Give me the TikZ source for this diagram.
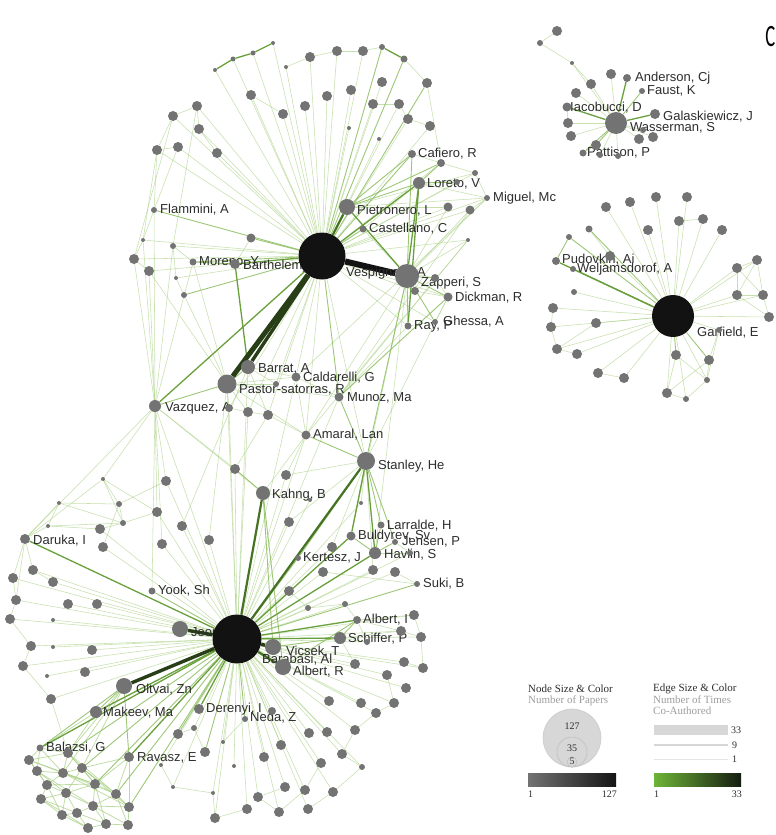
\documentclass[tikz,border=0pt]{standalone}
\usepackage{fontspec}
\newfontfamily\labfont{Liberation Sans}
\newfontfamily\legfont{Liberation Serif}
\newfontfamily\ttlfont{Carlito}
\pgfdeclarelayer{paper}
\pgfdeclarelayer{edges}
\pgfdeclarelayer{labels}
\pgfsetlayers{paper,edges,labels,main}
\definecolor{nodegray}{RGB}{115,115,115}
\definecolor{hubblack}{RGB}{18,18,18}
\definecolor{labgray}{RGB}{45,45,45}
\definecolor{elight}{RGB}{168,208,130}
\definecolor{emedium}{RGB}{140,190,95}
\definecolor{estrongc}{RGB}{105,160,60}
\definecolor{edeepc}{RGB}{70,115,35}
\definecolor{edarkc}{RGB}{40,62,22}
\definecolor{leggray}{RGB}{215,215,215}
\begin{document}
\begin{tikzpicture}[x=1pt,y=-1pt,
  pnode/.style={circle,fill=nodegray,draw=none,inner sep=0pt},
  hubnode/.style={circle,fill=hubblack,draw=none,inner sep=0pt},
  lab/.style={anchor=west,inner sep=0pt,text=labgray,font={\labfont\fontsize{13}{15}\selectfont}},
  elt/.style={draw=elight,line width=0.55pt,opacity=0.65},
  emesh/.style={draw=elight,line width=0.75pt,opacity=0.75},
  emd/.style={draw=emedium,line width=0.9pt,opacity=0.85},
  est/.style={draw=estrongc,line width=1.3pt},
  edp/.style={draw=edeepc,line width=2.2pt},
  edk/.style={draw=edarkc,line width=3.4pt},
  eblk/.style={draw=hubblack,line width=6pt},
  legtitle/.style={anchor=west,inner sep=0pt,text=labgray,font={\legfont\fontsize{11}{12}\selectfont}},
  legsub/.style={anchor=west,inner sep=0pt,text=black!38,font={\legfont\fontsize{11}{11}\selectfont}},
  legnum/.style={inner sep=0pt,text=labgray,font={\legfont\fontsize{10}{11}\selectfont}}]
\useasboundingbox (0,0) rectangle (776,835);
\begin{pgfonlayer}{paper}
\fill[white] (0,0) rectangle (776,835);
\end{pgfonlayer}

% ---------- hubs ----------
\node[hubnode,minimum size=47pt] (ves) at (322,256) {};
\node[hubnode,minimum size=49pt] (bar) at (237,639) {};
\node[hubnode,minimum size=42pt] (gar) at (673,316) {};
\node[pnode,minimum size=22pt] (was) at (616,123) {};

% ---------- upper component ----------
\foreach \n/\x/\y/\r in {zap/407/276/12, pie/347/207/8, lor/419/183/6, caf/412/154/4,
  a1/441/163/4, a2/475/173/3, a3/457/182/3, mig/487/198/3, a4/448/207/4.5, a5/470/210/4.5,
  cas/363/229/3.5, a6/468/240/2, a7/435/278/4, a8/415/291/4, dic/448/297/4.5, ghe/435/322/3,
  ray/408/326/3.5, bth/235/264/5, mor/193/262/3.5, a9/251/238/4.5, fla/154/210/3,
  a10/143/240/2, a11/173/246/3, a12/134/259/5, a13/149/271/5, a14/176/278/2, a15/184/295/3,
  brr/248/367/7, pas/227/384/9.5, cal/296/377/4.5, a16/276/384/3, mun/339/397/4.5,
  vaz/155/406/6, a17/229/408/4, a18/248/412/5, a19/268/415/5,
  t1/215/70/2, t2/233/59/2.5, t3/253/53/2.5, t4/273/43/2, t5/286/67/2, t6/310/57/5,
  t7/337/51/5, t8/363/51/5, t9/382/47/3, t10/404/59/3.5, t11/427/83/5, t12/382/82/5,
  t13/351/90/5, t14/327/96/5, t15/305/106/5, t16/283/114/5, t17/251/95/5, t18/373/104/5,
  t19/399/104/5, t20/408/119/5, t21/430/126/5, t22/349/128/2, t23/379/139/2,
  t24/173/116/5, t25/197/106/5, t26/199/129/5, t27/157/150/5, t28/178/147/5, t29/217/153/5}
  \node[pnode,minimum size={2*\r pt}] (\n) at (\x,\y) {};

% ---------- lower component ----------
\foreach \n/\x/\y/\r in {sta/366/461/9, ama/306/435/4.5, kah/263/493/7, lar/381/525/3.5,
  bul/351/536/4.5, jen/395/542/3, hav/375/553/6, ker/298/558/3, suk/417/584/3,
  yoo/152/591/3.5, alb/357/620/4, jeo/180/629/8, sch/340/638/6, vic/273/647/8,
  alr/283/667/8, olt/124/686/8, mak/96/712/6, der/199/709/5, ned/245/719/3,
  bal/40/748/3.5, rav/129/757/5, dar/25/539/5,
  b1/235/469/5, b2/286/475/5, b3/103/479/2, b4/166/481/5, b5/310/500/2, b6/361/503/2,
  b7/59/503/2, b8/119/504/3, b9/157/512/5, b10/289/522/5, b11/182/526/5, b12/48/526/2,
  b13/123/523/3, b14/100/529/5, b15/209/540/5, b16/162/544/5, b17/103/547/5, b18/332/547/5,
  b19/410/553/3, b20/323/572/5, b21/373/570/5, b22/395/572/5, b23/33/570/5, b24/13/578/5,
  b25/53/582/5, b26/289/591/5, b27/16/600/5, b28/68/604/5, b29/97/604/5, b30/345/604/3,
  b31/308/608/3, b32/10/619/5, b33/53/620/2, b34/414/615/5, b35/401/631/5, b36/367/642/3,
  b37/421/637/5, b38/31/646/5, b39/53/647/2, b40/92/650/5, b41/23/666/5, b42/355/664/5,
  b43/404/662/5, b44/423/668/5, b45/85/672/5, b46/47/676/2, b47/387/675/5, b48/406/688/5,
  b49/51/699/5, b50/329/701/5, b51/361/703/5, b52/394/703/5, b53/272/711/4, b54/376/713/5,
  b55/194/728/3, b56/178/734/5, b57/309/733/5, b58/327/732/5, b59/355/730/5, b60/223/742/2,
  b61/281/745/5, b62/68/753/5, b63/205/752/5, b64/264/757/5, b65/342/754/5, b66/321/763/5,
  b67/29/760/5, b68/161/765/2, b69/234/766/2, b70/362/767/3, b71/37/771/5, b72/63/773/5,
  b73/82/768/5, b74/173/787/2, b75/47/785/5, b76/95/784/5, b77/285/787/5, b78/305/790/5,
  b79/333/792/5, b80/116/794/5, b81/66/793/5, b82/213/793/2, b83/258/797/5, b84/41/799/5,
  b85/93/806/5, b86/129/807/5, b87/247/809/5, b88/279/812/5, b89/308/809/5, b90/62/815/5,
  b91/77/813/5, b92/215/818/5, b93/88/828/5, b94/106/824/5, b95/128/825/5}
  \node[pnode,minimum size={2*\r pt}] (\n) at (\x,\y) {};

% ---------- Wasserman component ----------
\foreach \n/\x/\y/\r in {ande/627/78/4, fau/642/91/3, iac/567/107/4.5, gal/655/114/5,
  pat/583/153/3.5, w1/557/31/5, w2/540/43/3, w3/572/63/2, w4/611/74/5, w5/591/84/5,
  w6/576/93/5, w7/568/123/5, w8/571/136/5, w9/596/145/5, w10/639/139/5, w11/653/137/5,
  w12/600/155/3, w13/618/156/3, w14/643/130/3}
  \node[pnode,minimum size={2*\r pt}] (\n) at (\x,\y) {};

% ---------- Garfield component ----------
\foreach \n/\x/\y/\r in {pud/556/261/4, wel/573/269/3, g1/606/207/5, g2/630/202/5,
  g3/656/197/5, g4/687/197/5, g5/679/221/5, g6/703/219/5, g7/722/230/5, g8/648/230/5,
  g9/589/229/3.5, g10/569/237/3, g11/610/256/5, g12/574/292/3, g13/553/308/5,
  g14/596/323/5, g15/551/327/5, g16/557/349/5, g17/577/354/5, g18/598/373/5,
  g19/624/378/5, g20/737/268/5, g21/757/260/5, g22/737/295/5, g23/763/295/5,
  g24/769/317/5, g25/719/330/3, g26/709/360/5, g27/676/355/5, g28/707/380/3,
  g29/667/393/5, g30/686/399/3}
  \node[pnode,minimum size={2*\r pt}] (\n) at (\x,\y) {};

% ---------- edges ----------
\begin{pgfonlayer}{edges}
% light co-authorships
\foreach \a/\b in {ves/t1, ves/t2, ves/t3, ves/t4, ves/t5, ves/t6, ves/t7, ves/t8, ves/t12,
  ves/t13, ves/t14, ves/t15, ves/t16, ves/t17, ves/t18, ves/t19, ves/t20, ves/t21, ves/t22,
  ves/t23, ves/t24, ves/t25, ves/t26, ves/t27, ves/t28, ves/t29, ves/a1, ves/a2, ves/a3,
  ves/a4, ves/a5, ves/a6, ves/a7, ves/a8, ves/a10, ves/a11, ves/a12, ves/a13, ves/a14,
  ves/dic, ves/ghe, ves/ray, ves/cal, ves/a16, ves/a17, ves/a18, ves/a19, ves/mig,
  ves/ama, ves/sta,
  t5/t6, t6/t7, t7/t8, t8/t9, t10/t11, t24/t25, t24/t27, t25/t26, t27/t28, t26/t29,
  t17/t16, t21/t20, t20/t19, t19/t18, t11/a1, t27/a10, t27/fla, t28/fla, t24/a12, t25/a11,
  fla/a10, a10/a12, a12/a13, a11/a14, a13/vaz, a12/vaz, a10/vaz, fla/vaz, a11/vaz,
  mor/a11, mor/pas, mor/vaz, a15/pas, a14/a15, a13/pas, a9/bth,
  caf/a1, a1/a2, a2/mig, a3/lor, mig/a5, a4/zap, a5/zap, a6/zap, a6/mun, a7/a8, a8/dic,
  dic/ghe, ghe/ray, zap/mig, pie/a2, pie/a4, pie/mig, cas/zap, cas/lor, lor/mig,
  ray/mun, a7/dic, mig/cal, a5/mun, a6/ama, zap/hav, zap/bul,
  vaz/dar, vaz/yoo, vaz/b4, vaz/b9, vaz/b1, vaz/kah, vaz/bar, vaz/b16, vaz/b3,
  a17/a18, a18/a19, a19/ama, a17/pas, a18/pas, a19/brr, cal/pas, cal/brr, cal/mun,
  a16/pas, a16/brr, mun/pas, a17/bar, a18/bar, a19/b1, cal/bar, brr/bar, pas/bar,
  mun/bar, ama/b2, ama/kah, ama/bar, ama/zap, ama/pas, ama/cal, brr/b11, pas/b15,
  sta/b6, sta/b21, sta/b18, sta/b10, sta/dic, sta/b2,
  bar/b1, bar/b2, bar/b4, bar/b9, bar/b10, bar/b11, bar/b15, bar/b16, bar/b17, bar/b18,
  bar/b20, bar/b21, bar/b22, bar/b23, bar/b24, bar/b25, bar/b26, bar/b28, bar/b29,
  bar/b30, bar/b31, bar/b32, bar/b34, bar/b35, bar/b36, bar/b37, bar/b38, bar/b40,
  bar/b41, bar/b42, bar/b43, bar/b44, bar/b45, bar/b47, bar/b48, bar/b49, bar/b50,
  bar/b51, bar/b52, bar/b53, bar/b54, bar/b55, bar/b57, bar/b58, bar/b59, bar/b60,
  bar/b61, bar/b64, bar/b65, bar/b66, bar/b69, bar/b70, bar/b77, bar/b78, bar/b79,
  bar/b82, bar/b83, bar/b87, bar/b88, bar/b89, bar/b92, bar/b5, bar/b6, bar/b19,
  bar/b27, bar/b14, bar/b68, bar/b74, bar/b33, bar/b39, bar/b46,
  dar/b3, dar/b7, dar/b12, dar/b23, dar/b24, dar/b27, b3/b8, b7/b8, b8/b13, b12/b13,
  b7/b12, b13/b14, b3/b9, b8/b17, b12/b14, b7/b13, b23/b25, b24/b27, b27/b32, b32/b38,
  b38/b41, b41/b49, b49/b62, b3/b13, b8/b4, b13/b9,
  b70/b79, b79/b89, b66/b78, b78/b88, b59/b65, b65/b70, b54/b59, b52/b54, b47/b52,
  b87/b92, b83/b88, b77/b83, b92/b82, b82/b74, b74/b68, ned/b60, b56/b55, b63/b55,
  alb/b34, alb/b35, sch/b36, alb/b36, b34/b37, b35/b37, b37/b44, b43/b44, b42/sch,
  sch/b35, alb/b30, b30/b31, b31/b26, suk/b22, suk/b20, hav/b19, b19/jen, kah/b5,
  was/w3, was/w4, was/w5, was/w6, was/w7, was/w8, was/w10, was/w11, was/w12, was/w13,
  was/w14, w1/w2, w2/w3, w3/w5, iac/w7, w9/pat,
  gar/g1, gar/g2, gar/g3, gar/g4, gar/g5, gar/g6, gar/g7, gar/g8, gar/g11, gar/g12,
  gar/g13, gar/g14, gar/g15, gar/g16, gar/g17, gar/g18, gar/g19, gar/g20, gar/g21,
  gar/g22, gar/g23, gar/g24, gar/g25, gar/g28, gar/g29, gar/g30,
  g20/g21, g20/g22, g21/g23, g22/g23, g23/g24, g20/g23, g21/g22, g22/g24,
  g25/g26, g26/g28, g27/g28, g27/g29, g28/g30, g29/g30, g26/g29, g25/g28,
  g13/g15, g15/g16, g16/g17, g18/g19, g14/g16, g5/g6, g9/g11}
  \draw[elt] (\a) -- (\b);
% dense mesh of the lower-left group
\foreach \a/\b in {bal/b62, bal/b67, bal/b71, bal/b72, b62/b67, b62/b72, b62/b73,
  b67/b71, b67/b72, b71/b75, b71/b72, b72/b73, b72/b75, b72/b76, b73/b76, b73/b81,
  b75/b81, b75/b84, b76/b80, b76/b81, b76/b85, b80/b85, b80/b86, b81/b84, b81/b85,
  b81/b90, b84/b90, b85/b86, b85/b91, b85/b94, b86/b95, b90/b91, b91/b93, b93/b94,
  b94/b95, b73/b80, b62/b76, b67/b75, b71/b81, b72/b80, b84/b91, b90/b93, b75/b76,
  b80/b95, b91/b94, rav/b73, rav/b76, rav/b80, rav/b86, olt/b62, olt/b73, olt/b72,
  mak/b62, mak/bal, b95/b85, b62/b80, b67/b76, b71/b85, b72/b86, b73/b86, b75/b90,
  b84/b93, b76/b94, b81/b91}
  \draw[emesh] (\a) -- (\b);
% medium co-authorships
\foreach \a/\b in {ves/fla, ves/mor, ves/a9, ves/cas, ves/caf, ves/a15, ves/mun, ves/t9,
  ves/t10, ves/t11, bth/mor, pas/brr, zap/caf, zap/dic, zap/a7, zap/a8, zap/ray, zap/ghe,
  pie/lor, pie/caf, pie/a1, lor/a1, lor/a3, dic/mun, sta/ama, sta/mun, sta/zap, sta/lar,
  sta/jen, sta/ker, kah/b1, kah/alr, kah/vic, hav/bul, hav/lar, hav/jen, sch/alb,
  sch/vic, alb/alr, bar/suk, bar/ker, bar/yoo, bar/ned, olt/bal, olt/rav, olt/mak,
  bar/b73, bar/b76, bar/b80, bar/b56, bar/b63, bar/b62, bar/b86, vaz/pas,
  was/fau, was/pat, was/w9, gar/g9, gar/g27, gar/g26, g10/pud, gar/g10}
  \draw[emd] (\a) -- (\b);
% strong co-authorships
\foreach \a/\b in {ves/lor, ves/bth, ves/vaz, bth/brr, zap/lor, lor/ray, zap/pie,
  bar/dar, bar/hav, bar/sch, bar/alb, bar/rav, bar/mak, bar/bal, bar/der, bar/bul,
  sta/hav, sta/bul, t1/t2, t2/t3, t3/t4, t9/t10, was/ande, was/gal, was/iac,
  gar/pud, gar/wel}
  \draw[est] (\a) -- (\b);
\foreach \a/\b in {ves/pie, bar/sta, bar/kah, bar/alr}
  \draw[edp] (\a) -- (\b);
\foreach \a/\b in {ves/brr, bar/olt, bar/vic, bar/jeo}
  \draw[edk] (\a) -- (\b);
\draw[eblk] (ves) -- (zap);
\draw[draw=edarkc,line width=5pt] (ves) -- (pas);
\end{pgfonlayer}

% ---------- author labels ----------
\begin{pgfonlayer}{labels}
\foreach \n/\x/\y/\t in {lCaf/418/154/{Cafiero, R}, lLor/427/184/{Loreto, V},
  lMig/493/198/{Miguel, Mc}, lFla/160/210/{Flammini, A}, lPie/357/211/{Pietronero, L},
  lCas/369/229/{Castellano, C}, lMor/199/262/{Moreno, Y}, lBth/243/266/{Barthelemy, M},
  lVes/346/273/{Vespignani, A}, lZap/421/283/{Zapperi, S}, lDic/455/298/{Dickman, R},
  lRay/414/326/{Ray, P}, lGhe/443/322/{Ghessa, A}, lBrr/258/369/{Barrat, A},
  lCal/303/378/{Caldarelli, G}, lPas/239/390/{Pastor-satorras, R}, lMun/347/398/{Munoz, Ma},
  lVaz/165/408/{Vazquez, A}, lAma/313/435/{Amaral, Lan}, lSta/378/466/{Stanley, He},
  lKah/272/495/{Kahng, B}, lLar/387/526/{Larralde, H}, lBul/358/536/{Buldyrev, Sv},
  lJen/402/542/{Jensen, P}, lDar/33/541/{Daruka, I}, lHav/384/555/{Havlin, S},
  lKer/303/558/{Kertesz, J}, lSuk/423/584/{Suki, B}, lYoo/158/591/{Yook, Sh},
  lAlb/363/620/{Albert, I}, lSch/348/639/{Schiffer, P}, lJeo/191/633/{Jeong, H},
  lVic/286/652/{Vicsek, T}, lBar/262/660/{Barabasi, Al}, lAlr/293/672/{Albert, R},
  lOlt/136/690/{Oltvai, Zn}, lMak/103/713/{Makeev, Ma}, lDer/206/709/{Derenyi, I},
  lNed/250/718/{Neda, Z}, lBal/46/748/{Balazsi, G}, lRav/137/758/{Ravasz, E},
  lAnd/635/78/{Anderson, Cj}, lFau/647/91/{Faust, K}, lIac/570/108/{Iacobucci, D},
  lGal/663/117/{Galaskiewicz, J}, lWas/630/128/{Wasserman, S}, lPat/587/153/{Pattison, P},
  lPud/562/260/{Pudovkin, Ai}, lWel/577/269/{Weljamsdorof, A}, lGar/697/333/{Garfield, E}}
  \node[lab] (\n) at (\x,\y) {\t};
\end{pgfonlayer}

% ---------- heading letter ----------
\node[anchor=east,inner sep=0pt,text=black,font={\ttlfont\fontsize{31}{33}\selectfont}] (head) at (775.5,37) {\scalebox{0.6}[1]{C}};

% ---------- legend: nodes ----------
\node[legtitle] (ntitle) at (528,689) {Node Size \& Color};
\node[legsub] (nsub) at (528,701) {Number of Papers};
\node[circle,fill=leggray,draw=black!20,line width=0.6pt,minimum size=58pt,inner sep=0pt] (nbig) at (572,738) {};
\node[circle,fill=leggray,draw=black!25,line width=0.6pt,minimum size=30pt,inner sep=0pt] (nmid) at (572,752) {};
\node[circle,fill=leggray,draw=black!25,line width=0.6pt,minimum size=10pt,inner sep=0pt] (nsmall) at (572,762) {};
\node[legnum] (n127) at (572,726) {127};
\node[legnum] (n35) at (572,748) {35};
\node[legnum] (n5) at (572,761) {5};
\shade[left color=black!55,right color=black!92] (528,773) rectangle (616,786);
\node[legnum,anchor=west] (ng1) at (528,794) {1};
\node[legnum,anchor=east] (ng127) at (617,794) {127};

% ---------- legend: edges ----------
\node[legtitle] (etitle) at (653,689) {Edge Size \& Color};
\node[legsub] (esub1) at (653,700) {Number of Times};
\node[legsub] (esub2) at (653,711) {Co-Authored};
\fill[leggray] (654,725) rectangle (728,735);
\coordinate (m9a) at (654,745);
\coordinate (m9b) at (728,745);
\draw[draw=leggray,line width=2pt] (m9a) -- (m9b);
\coordinate (m1a) at (654,759);
\coordinate (m1b) at (728,759);
\draw[draw=black!10,line width=0.6pt] (m1a) -- (m1b);
\node[legnum,anchor=west] (e33) at (731,730) {33};
\node[legnum,anchor=west] (e9) at (732,745) {9};
\node[legnum,anchor=west] (e1) at (732,759) {1};
\shade[left color={rgb,255:red,110;green,180;blue,55},right color={rgb,255:red,22;green,28;blue,18}] (654,773) rectangle (741,786);
\node[legnum,anchor=west] (eg1) at (654,794) {1};
\node[legnum,anchor=east] (eg33) at (742,794) {33};
\end{tikzpicture}
\end{document}
